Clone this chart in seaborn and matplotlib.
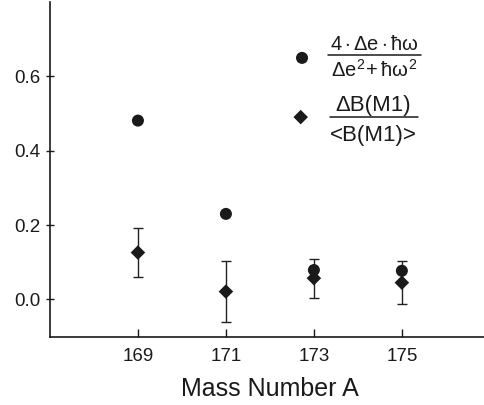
import matplotlib
matplotlib.use("Agg")
import matplotlib.pyplot as plt
import seaborn as sns
import pandas as pd
from matplotlib.lines import Line2D

sns.set_theme(style="ticks")
plt.rcParams['font.family'] = ['Liberation Sans', 'DejaVu Sans']
plt.rcParams['mathtext.fontset'] = 'custom'
plt.rcParams['mathtext.rm'] = 'Liberation Sans'
plt.rcParams['mathtext.it'] = 'Liberation Sans'
plt.rcParams['mathtext.bf'] = 'Liberation Sans:bold'

mass = [169, 171, 173, 175]
ratio_energy = [0.481, 0.230, 0.079, 0.077]
ratio_bm1 = [0.126, 0.021, 0.057, 0.045]
ratio_bm1_err = [0.067, 0.083, 0.052, 0.058]

energy_num = r'$4\cdot\Delta e\cdot\hbar\omega$'
energy_den = r'$\Delta e^{2}\!+\hbar\omega^{2}$'
bm1_num = 'ΔB(M1)'
bm1_den = '<B(M1)>'

df = pd.DataFrame({"A": mass, "E": ratio_energy, "B": ratio_bm1, "err": ratio_bm1_err})

ink = '#1a1a1a'
fig = plt.figure(figsize=(4.85, 4.05), dpi=100)
ax = fig.add_axes([0.103, 0.169, 0.907, 0.826])

ax.errorbar(df["A"], df["B"], yerr=df["err"], fmt='none', ecolor='#222222',
            elinewidth=1.0, capsize=3.5, capthick=1.0, zorder=1)
sns.scatterplot(data=df, x="A", y="E", marker='o', s=75, color=ink,
                edgecolor='none', ax=ax, zorder=3)
sns.scatterplot(data=df, x="A", y="B", marker='D', s=55, color=ink,
                edgecolor='none', ax=ax, zorder=3)

ax.set_xlim(167, 177)
ax.set_ylim(-0.1, 0.8)
ax.set_xticks(mass)
ax.set_yticks([0.0, 0.2, 0.4, 0.6])
ax.set_yticklabels(["0.0", "0.2", "0.4", "0.6"])
ax.tick_params(axis='x', direction='in', length=6, width=1, labelsize=13.5, pad=8, colors=ink)
ax.tick_params(axis='y', direction='inout', length=6, width=1, labelsize=13.5, pad=4, colors=ink)
ax.set_xlabel("Mass Number A", fontsize=18, labelpad=9, color=ink)
ax.set_ylabel("")
for s in ['top', 'right']:
    ax.spines[s].set_visible(False)
for s in ['left', 'bottom']:
    ax.spines[s].set_linewidth(1.2)
    ax.spines[s].set_color(ink)

# legend-like key
ax.scatter([0.573], [0.833], marker='o', s=75, color=ink, edgecolor='none',
           transform=ax.transAxes, clip_on=False)
ax.scatter([0.570], [0.656], marker='D', s=55, color=ink, edgecolor='none',
           transform=ax.transAxes, clip_on=False)

def fraction(num, den, xc, y_num, y_bar, y_den, x0, x1, fs):
    ax.text(xc, y_num, num, transform=ax.transAxes, ha='center', va='center',
            fontsize=fs, color=ink)
    ax.text(xc, y_den, den, transform=ax.transAxes, ha='center', va='center',
            fontsize=fs, color=ink)
    ax.add_line(Line2D([x0, x1], [y_bar, y_bar], transform=ax.transAxes,
                       color=ink, lw=1.1, clip_on=False))

fraction(energy_num, energy_den, 0.738, 0.873, 0.842, 0.797, 0.632, 0.843, 14.5)
fraction(bm1_num, bm1_den, 0.735, 0.692, 0.6555, 0.601, 0.636, 0.836, 16)

fig.savefig("out.png", dpi=100)
